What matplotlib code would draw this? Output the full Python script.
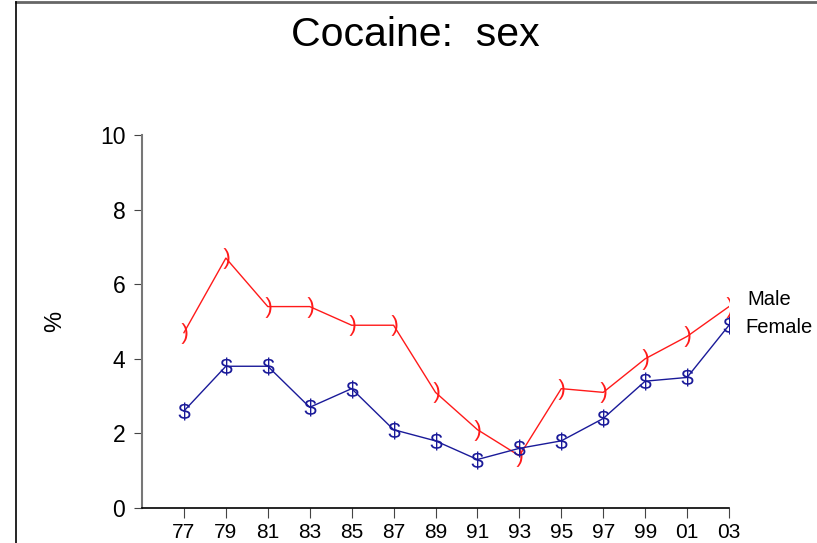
import numpy as np
import matplotlib
matplotlib.use("Agg")
import matplotlib.pyplot as plt
from matplotlib.lines import Line2D

plt.rcParams['font.family'] = ['Liberation Sans', 'DejaVu Sans']
plt.rcParams['mathtext.fontset'] = 'custom'
plt.rcParams['mathtext.rm'] = 'Liberation Sans'
plt.rcParams['mathtext.it'] = 'Liberation Sans'

years = ['77', '79', '81', '83', '85', '87', '89', '91', '93', '95', '97', '99', '01', '03']
male = [4.7, 6.7, 5.4, 5.4, 4.9, 4.9, 3.1, 2.1, 1.4, 3.2, 3.1, 4.0, 4.6, 5.4]
female = [2.6, 3.8, 3.8, 2.7, 3.2, 2.1, 1.8, 1.3, 1.6, 1.8, 2.4, 3.4, 3.5, 4.9]

red = '#ff1a1a'
navy = '#1a1a99'

fig = plt.figure(figsize=(8.17, 5.43), dpi=100)
ax = fig.add_axes([142 / 817, 35 / 543, 587 / 817, 373 / 543])

x = np.arange(len(years))
ax.plot(x, male, color=red, lw=1.0, marker=r'$)$', ms=15, mew=0, mec=red, mfc=red)
ax.plot(x, female, color=navy, lw=1.0, marker=r'$\$$', ms=13, mew=0, mec=navy, mfc=navy)

ax.set_xlim(-1, len(years) - 1)
ax.set_ylim(0, 10)
ax.set_xticks(x)
ax.set_xticklabels(years, fontsize=15)
ax.set_yticks([0, 2, 4, 6, 8, 10])
ax.tick_params(axis='y', labelsize=16.5, length=6, direction='out', color='#444444', pad=6)
ax.tick_params(axis='x', length=7, direction='out', color='#444444', pad=3.5)

for s in ['top', 'right']:
    ax.spines[s].set_visible(False)
ax.spines['left'].set_color('#777777')
ax.spines['left'].set_linewidth(1.5)
ax.spines['bottom'].set_color('black')
ax.spines['bottom'].set_linewidth(1.2)

ax.set_ylabel('%', fontsize=17, labelpad=24)

# series labels at the right end
ax.text(len(years) - 1 + 0.45, male[-1] + 0.2, 'Male', fontsize=14.5, va='center', ha='left')
ax.text(len(years) - 1 + 0.38, female[-1] - 0.05, 'Female', fontsize=14.5, va='center', ha='left')

fig.text(415 / 817, 1 - 35 / 543, 'Cocaine:  sex', fontsize=29.5, ha='center', va='center')

# page frame
fig.add_artist(Line2D([16 / 817, 1], [1 - 2 / 543, 1 - 2 / 543], color='#666666', lw=2, transform=fig.transFigure))
fig.add_artist(Line2D([16 / 817, 16 / 817], [0, 1 - 2 / 543], color='black', lw=1.2, transform=fig.transFigure))

fig.savefig('out.png', dpi=100)
